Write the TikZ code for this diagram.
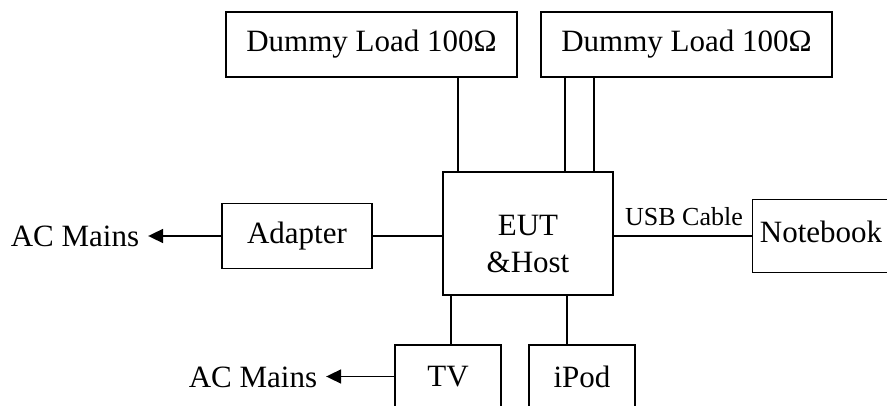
\documentclass[tikz,border=0pt]{standalone}
\usepackage{fontspec}
\setmainfont{Liberation Serif}
\usetikzlibrary{arrows.meta}
\begin{document}
\begin{tikzpicture}[x=1pt,y=-1pt,
  box/.style={draw,line width=1.8pt,inner sep=0pt,font=\fontsize{31}{37}\selectfont,align=center},
  txt/.style={inner sep=0pt,font=\fontsize{31}{37}\selectfont,align=center},
  wire/.style={line width=1.8pt},
  arr/.style={line width=1.8pt,-{Triangle[length=15pt,width=14pt]}},
  lbl/.style={inner sep=0pt,outer xsep=9pt,font=\fontsize{31}{37}\selectfont},
  small/.style={inner sep=0pt,font=\fontsize{26}{30}\selectfont}]
\useasboundingbox (0,0) rectangle (887,406);
\clip (0,0) rectangle (887,406);
% boxes
\node[box,minimum width=291pt,minimum height=65pt] (dl1) at (371.5,44.5) {Dummy Load 100Ω};
\node[box,minimum width=291pt,minimum height=65pt] (dl2) at (686.5,44.5) {Dummy Load 100Ω};
\node[box,minimum width=170pt,minimum height=123pt] (eut) at (528,233.5) {};
\node[txt] (eutt) at (528,244) {EUT\\\&Host};
\node[box,minimum width=150pt,minimum height=65pt] (ad) at (297,236) {Adapter};
\node[box,line width=1pt,minimum width=136pt,minimum height=73pt] (nb) at (820,236) {};
\node[txt] (nbt) at (821,232) {Notebook};
\node[box,minimum width=106pt,minimum height=63pt] (tv) at (448,376.5) {TV};
\node[box,minimum width=106pt,minimum height=63pt] (ipod) at (582,376.5) {iPod};
% labels
\node[lbl] (ac1) at (75,236) {AC Mains};
\node[lbl] (ac2) at (253,377) {AC Mains};
\node[small] (usb) at (684,217) {USB Cable};
% x positions of vertical wires
\coordinate (xa) at (458,0);
\coordinate (xb) at (565,0);
\coordinate (xc) at (594,0);
\coordinate (xd) at (451,0);
\coordinate (xe) at (567,0);
% connectors
\draw[wire] (dl1.south -| xa) -- (eut.north -| xa);
\draw[wire] (dl2.south -| xb) -- (eut.north -| xb);
\draw[wire] (dl2.south -| xc) -- (eut.north -| xc);
\draw[wire] (eut.south -| xd) -- (tv.north -| xd);
\draw[wire] (eut.south -| xe) -- (ipod.north -| xe);
\draw[wire] (ad.east) -- (ad.east -| eut.west);
\draw[wire] (nb.west -| eut.east) -- (nb.west);
\draw[arr] (ad.west) -- (ad.west -| ac1.east);
\draw[arr] (tv.west) -- (tv.west -| ac2.east);
\end{tikzpicture}
\end{document}
